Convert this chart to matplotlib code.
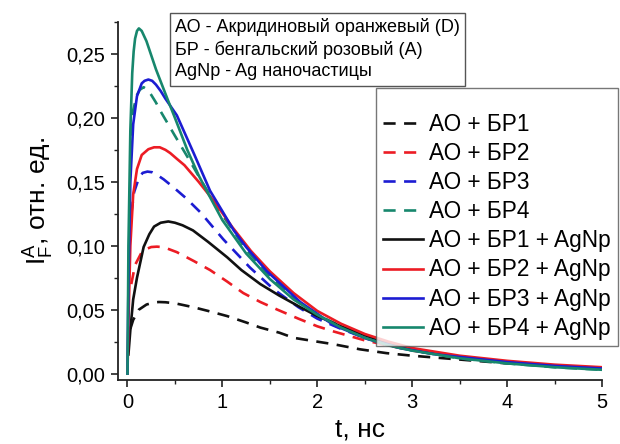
import matplotlib
matplotlib.use("Agg")
import matplotlib.pyplot as plt
from matplotlib.ticker import MultipleLocator

plt.rcParams['font.family'] = ['Liberation Sans', 'DejaVu Sans']
plt.rcParams['mathtext.fontset'] = 'custom'
plt.rcParams['mathtext.rm'] = 'Liberation Sans'
plt.rcParams['mathtext.it'] = 'Liberation Sans'

# --- data (t in ns, intensity in rel. units) ---
t_bp1 = [0.03, 0.06, 0.12, 0.2, 0.27, 0.33, 0.4, 0.5, 0.69, 0.85, 1.05, 1.25, 1.4, 1.6,
         1.75, 2.0, 2.17, 2.45, 2.73, 3.0, 3.5, 4.0, 4.5, 5.0]
y_bp1 = [0.035, 0.042, 0.050, 0.054, 0.0555, 0.056, 0.0558, 0.055, 0.052, 0.049, 0.045,
         0.040, 0.036, 0.032, 0.028, 0.025, 0.023, 0.019, 0.016, 0.014, 0.011, 0.008,
         0.006, 0.004]

t_bp2 = [0.04, 0.08, 0.15, 0.2, 0.25, 0.31, 0.36, 0.42, 0.52, 0.7, 0.87, 1.05, 1.22,
         1.4, 1.58, 1.8, 2.0, 2.17, 2.5, 3.0, 3.5, 4.0, 4.5, 5.0]
y_bp2 = [0.070, 0.085, 0.095, 0.0975, 0.099, 0.0993, 0.099, 0.0978, 0.095, 0.088, 0.081,
         0.072, 0.063, 0.056, 0.050, 0.043, 0.037, 0.033, 0.026, 0.018, 0.013, 0.009,
         0.006, 0.004]

t_bp3 = [0.04, 0.07, 0.12, 0.16, 0.21, 0.26, 0.3, 0.38, 0.48, 0.62, 0.77, 1.01, 1.29,
         1.54, 1.8, 2.0, 2.25, 2.5, 3.0, 3.5, 4.0, 4.5, 5.0]
y_bp3 = [0.125, 0.142, 0.153, 0.157, 0.158, 0.1575, 0.156, 0.152, 0.146, 0.137, 0.126,
         0.105, 0.083, 0.066, 0.052, 0.043, 0.035, 0.028, 0.019, 0.013, 0.009, 0.006,
         0.004]

t_bp4 = [0.03, 0.06, 0.1, 0.13, 0.17, 0.21, 0.25, 0.3, 0.35, 0.5, 0.66, 0.8, 1.0, 1.25,
         1.5, 1.75, 2.0, 2.5, 3.0, 3.5, 4.0, 4.5, 5.0]
y_bp4 = [0.170, 0.206, 0.218, 0.222, 0.224, 0.222, 0.218, 0.212, 0.205, 0.186, 0.166,
         0.148, 0.124, 0.097, 0.076, 0.059, 0.046, 0.028, 0.018, 0.012, 0.008, 0.005,
         0.003]

t_bp1_ag = [0.01, 0.03, 0.06, 0.1, 0.17, 0.23, 0.28, 0.35, 0.43, 0.5, 0.58, 0.69, 0.85,
            1.05, 1.2, 1.4, 1.6, 1.82, 2.0, 2.25, 2.5, 2.75, 3.0, 3.5, 4.0, 4.5, 5.0]
y_bp1_ag = [0.015, 0.034, 0.058, 0.075, 0.099, 0.109, 0.115, 0.118, 0.119, 0.118, 0.116,
            0.112, 0.103, 0.091, 0.081, 0.070, 0.061, 0.052, 0.045, 0.037, 0.030, 0.024,
            0.019, 0.013, 0.009, 0.006, 0.004]

t_bp2_ag = [0, 0.01, 0.03, 0.06, 0.1, 0.15, 0.22, 0.28, 0.34, 0.4, 0.45, 0.52, 0.6,
            0.75, 0.91, 1.1, 1.3, 1.5, 1.75, 2.0, 2.25, 2.5, 2.75, 3.0, 3.5, 4.0, 4.5,
            5.0]
y_bp2_ag = [0, 0.040, 0.100, 0.140, 0.160, 0.171, 0.1755, 0.177, 0.177, 0.175, 0.1725,
            0.168, 0.163, 0.150, 0.135, 0.115, 0.096, 0.080, 0.063, 0.049, 0.039, 0.031,
            0.025, 0.020, 0.014, 0.010, 0.007, 0.005]

t_bp3_ag = [0, 0.01, 0.03, 0.06, 0.1, 0.15, 0.18, 0.22, 0.26, 0.3, 0.35, 0.4, 0.52,
            0.7, 0.87, 1.0, 1.12, 1.25, 1.47, 1.82, 2.17, 2.53, 2.87, 3.25, 3.5, 4.0,
            4.5, 5.0]
y_bp3_ag = [0, 0.070, 0.150, 0.195, 0.217, 0.227, 0.229, 0.230, 0.229, 0.226, 0.221,
            0.215, 0.202, 0.172, 0.143, 0.127, 0.112, 0.099, 0.080, 0.056, 0.038, 0.027,
            0.020, 0.015, 0.013, 0.009, 0.006, 0.004]

t_bp4_ag = [0, 0.01, 0.03, 0.05, 0.065, 0.08, 0.1, 0.12, 0.15, 0.2, 0.25, 0.3, 0.42,
            0.5, 0.63, 0.75, 0.87, 1.0, 1.25, 1.5, 1.75, 2.0, 2.25, 2.5, 2.75, 3.0, 3.5,
            4.0, 4.5, 5.0]
y_bp4_ag = [0, 0.100, 0.190, 0.235, 0.252, 0.262, 0.268, 0.270, 0.268, 0.260, 0.249,
            0.238, 0.215, 0.200, 0.175, 0.155, 0.138, 0.120, 0.094, 0.074, 0.058, 0.046,
            0.036, 0.028, 0.022, 0.018, 0.012, 0.008, 0.005, 0.003]

labels = ['АО + БР1', 'АО + БР2', 'АО + БР3', 'АО + БР4',
          'АО + БР1 + AgNp', 'АО + БР2 + AgNp', 'АО + БР3 + AgNp', 'АО + БР4 + AgNp']

black = '#111111'
red = '#ec1c24'
blue = '#1c1cd2'
green = '#17876d'

fig = plt.figure(figsize=(6.2, 4.44), dpi=100)
ax = fig.add_axes([118 / 620, 1 - 380 / 444, 484 / 620, 358 / 444])

dash = (0, (4.6, 3.2))
lw = 1.9
ax.plot(t_bp1, y_bp1, color=black, lw=lw, linestyle=dash, label=labels[0])
ax.plot(t_bp2, y_bp2, color=red, lw=lw, linestyle=dash, label=labels[1])
ax.plot(t_bp3, y_bp3, color=blue, lw=lw, linestyle=dash, label=labels[2])
ax.plot(t_bp4, y_bp4, color=green, lw=lw, linestyle=dash, label=labels[3])
ax.plot(t_bp1_ag, y_bp1_ag, color=black, lw=lw, label=labels[4])
ax.plot(t_bp2_ag, y_bp2_ag, color=red, lw=lw, label=labels[5])
ax.plot(t_bp3_ag, y_bp3_ag, color=blue, lw=lw, label=labels[6])
ax.plot(t_bp4_ag, y_bp4_ag, color=green, lw=lw, label=labels[7])

ax.set_xlim(-0.1, 5)
ax.set_ylim(-0.005, 0.275)
ax.spines['top'].set_visible(False)
ax.spines['right'].set_visible(False)
for s in ['left', 'bottom']:
    ax.spines[s].set_linewidth(1.3)
    ax.spines[s].set_color('#222222')

ax.xaxis.set_major_locator(MultipleLocator(1))
ax.xaxis.set_minor_locator(MultipleLocator(0.5))
ax.yaxis.set_minor_locator(MultipleLocator(0.025))
ax.set_yticks([0, 0.05, 0.10, 0.15, 0.20, 0.25])
ax.set_yticklabels(['0,00', '0,05', '0,10', '0,15', '0,20', '0,25'])
ax.tick_params(which='major', direction='out', length=5, width=1.2, labelsize=14.5,
               color='#222222', pad=4)
ax.tick_params(which='minor', direction='out', length=3, width=1.0, color='#222222')

ax.set_xlabel('t, нс', fontsize=19, labelpad=4)
ax.set_ylabel(r'$\mathregular{I_F^A}$, отн. ед.', fontsize=19, labelpad=8)

leg = ax.legend(loc='upper right', bbox_to_anchor=(618 / 620, 1 - 88 / 444),
                bbox_transform=fig.transFigure, fontsize=16.3, frameon=True,
                fancybox=False, handlelength=1.75, handletextpad=0.3,
                labelspacing=0.27, borderpad=0.3, borderaxespad=0,
                title=' ', title_fontsize=9)
leg.get_frame().set_edgecolor('#555555')
leg.get_frame().set_linewidth(1.0)

note = ('АО - Акридиновый оранжевый (D)\n'
        'БР - бенгальский розовый (A)\n'
        'AgNp - Ag наночастицы')
fig.text(175 / 620, 1 - 18 / 444, note, fontsize=13, va='top', ha='left',
         linespacing=1.33,
         bbox=dict(boxstyle='square,pad=0.3', fc='white', ec='#555555', lw=1.0))

fig.savefig('out.png', dpi=100, facecolor='white')
